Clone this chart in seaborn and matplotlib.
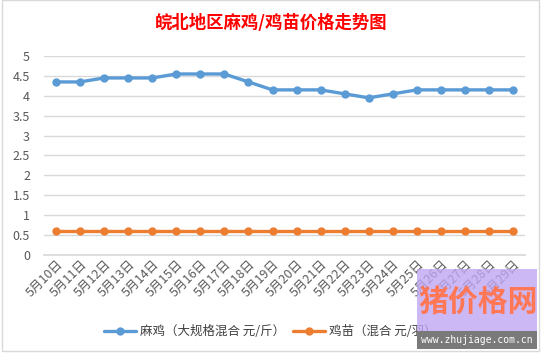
import pandas as pd
import seaborn as sns
import matplotlib.pyplot as plt
from matplotlib.patches import Rectangle

sns.set_theme(style='white')
plt.rcParams['font.family'] = ['Noto Sans CJK SC', 'DejaVu Sans']

dates = ['5月10日', '5月11日', '5月12日', '5月13日', '5月14日', '5月15日', '5月16日',
         '5月17日', '5月18日', '5月19日', '5月20日', '5月21日', '5月22日', '5月23日',
         '5月24日', '5月25日', '5月26日', '5月27日', '5月28日', '5月29日']
maji = [4.35, 4.35, 4.45, 4.45, 4.45, 4.55, 4.55, 4.55, 4.35, 4.15,
        4.15, 4.15, 4.05, 3.95, 4.05, 4.15, 4.15, 4.15, 4.15, 4.15]
jimiao = [0.6] * 20
names = ['麻鸡（大规格混合 元/斤）', '鸡苗（混合 元/羽）']
colors = ['#5B9BD5', '#ED7D31']

df = pd.DataFrame({'date': dates * 2,
                   'price': maji + jimiao,
                   'series': [names[0]] * 20 + [names[1]] * 20})

fig = plt.figure(figsize=(5.42, 3.55), dpi=100)
ax = fig.add_axes([0.081, 0.282, 0.888, 0.56])

sns.lineplot(data=df, x='date', y='price', hue='series', palette=colors,
             marker='o', markersize=6, markeredgewidth=0, linewidth=2.4,
             sort=False, ax=ax)

ax.set_ylim(0, 5)
ax.set_xlim(-0.5, 19.5)
ax.set_yticks([0, 0.5, 1, 1.5, 2, 2.5, 3, 3.5, 4, 4.5, 5])
ax.set_yticklabels(['0', '0.5', '1', '1.5', '2', '2.5', '3', '3.5', '4', '4.5', '5'])
ax.yaxis.grid(True, color='#d9d9d9', linewidth=1)
ax.set_xlabel('')
ax.set_ylabel('')
for s in ['left', 'right', 'top']:
    ax.spines[s].set_visible(False)
ax.spines['bottom'].set_color('#d9d9d9')
ax.tick_params(axis='y', colors='#595959', labelsize=9, length=0, pad=10)
ax.tick_params(axis='x', colors='#595959', labelsize=9, length=0, pad=2)
plt.setp(ax.get_xticklabels(), rotation=45, ha='right', rotation_mode='anchor')
# category boundary ticks
ax.set_xticks([i - 0.5 for i in range(21)], minor=True)
ax.tick_params(axis='x', which='minor', length=4, color='#d9d9d9', direction='out')

ax.legend(loc='center', bbox_to_anchor=(0.47, -0.385), ncol=2, frameon=False,
          fontsize=9, labelcolor='#404040', handlelength=2.6, columnspacing=0.6,
          handletextpad=0.3)

fig.text(0.5, 0.935, '皖北地区麻鸡/鸡苗价格走势图', color='red', fontsize=12.5,
         fontweight='bold', ha='center', va='center')

# chart frame
fig.patches.append(Rectangle((0.004, 0.01), 0.99, 0.99, transform=fig.transFigure,
                             fill=False, edgecolor='#d9d9d9', linewidth=1))

# watermark
fig.patches.append(Rectangle((417 / 542, 1 - 349 / 355), 120 / 542, 80 / 355,
                             transform=fig.transFigure, facecolor='#bfa6f2',
                             alpha=0.8, edgecolor='none', zorder=5))
fig.patches.append(Rectangle((417 / 542, 1 - 349 / 355), 120 / 542, 18 / 355,
                             transform=fig.transFigure, facecolor='#7a7a7a',
                             edgecolor='none', zorder=6))
fig.text(478 / 542, 1 - 302 / 355, '猪价格网', color='#ff7755', fontsize=21.5,
         fontweight='bold', ha='center', va='center', zorder=7)
fig.text(477 / 542, 1 - 340 / 355, 'www.zhujiage.com.cn', color='white',
         fontsize=7, family='DejaVu Sans Mono', ha='center', va='center', zorder=7)

fig.savefig('out.png', dpi=100)
